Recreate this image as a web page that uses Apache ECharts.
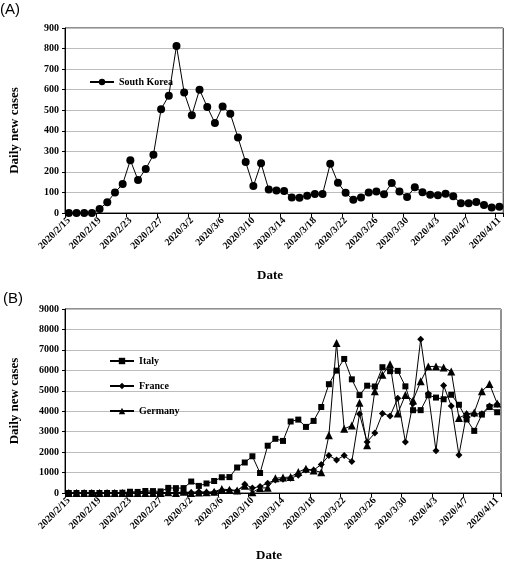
<!DOCTYPE html>
<html><head><meta charset="utf-8">
<script src="https://cdn.jsdelivr.net/npm/echarts@6/dist/echarts.min.js"></script>
<style>html,body{margin:0;padding:0;background:#fff}#c{width:505px;height:563px}</style>
</head><body><div id="c"></div>
<script>
const dates = ["2020/2/15","2020/2/16","2020/2/17","2020/2/18","2020/2/19","2020/2/20","2020/2/21","2020/2/22","2020/2/23","2020/2/24","2020/2/25","2020/2/26","2020/2/27","2020/2/28","2020/2/29","2020/3/1","2020/3/2","2020/3/3","2020/3/4","2020/3/5","2020/3/6","2020/3/7","2020/3/8","2020/3/9","2020/3/10","2020/3/11","2020/3/12","2020/3/13","2020/3/14","2020/3/15","2020/3/16","2020/3/17","2020/3/18","2020/3/19","2020/3/20","2020/3/21","2020/3/22","2020/3/23","2020/3/24","2020/3/25","2020/3/26","2020/3/27","2020/3/28","2020/3/29","2020/3/30","2020/3/31","2020/4/1","2020/4/2","2020/4/3","2020/4/4","2020/4/5","2020/4/6","2020/4/7","2020/4/8","2020/4/9","2020/4/10","2020/4/11"];
const southKorea = [0,0,0,0,20,52,100,141,257,160,214,283,505,571,813,586,476,600,516,438,518,483,367,248,131,242,114,110,107,76,74,84,93,92,239,147,98,64,76,100,104,91,146,105,78,125,101,89,86,94,81,47,47,53,39,27,30];
const italy = [0,0,0,0,0,0,0,14,62,53,97,93,78,250,238,240,561,347,466,587,769,778,1247,1492,1797,977,2313,2651,2547,3497,3590,3233,3526,4207,5322,5986,6557,5560,4789,5249,5210,6153,5959,5974,5217,4050,4053,4782,4668,4585,4805,4316,3599,3039,3836,4204,3951];
const france = [0,0,0,0,0,0,0,0,0,0,0,2,4,20,19,43,30,61,32,32,128,128,96,433,240,320,480,641,673,721,865,1120,1120,1394,1830,1620,1830,1540,3860,2500,2930,3890,3770,4630,2500,4380,7516,4860,2070,5260,4260,1860,3860,3860,3880,4260,4340];
const germany = [0,0,0,0,0,0,0,0,0,0,0,2,4,31,0,57,0,28,32,64,192,160,128,352,32,240,256,721,753,785,1026,1186,1106,1010,2820,7340,3140,3300,4420,2340,4980,5780,6300,3890,4790,4530,5460,6190,6190,6140,5940,3670,3860,3940,4980,5330,4380];
const yTicksA = {min:0, max:900, interval:100};
const yTicksB = {min:0, max:9000, interval:1000};

const SERIF = 'Liberation Serif';
const chart = echarts.init(document.getElementById('c'), null, {renderer:'canvas'});

function xAxis(gi){
  return {
    type:'category', gridIndex:gi, data:dates, boundaryGap:true,
    name:'Date', nameLocation:'middle', nameGap:56,
    nameTextStyle:{fontFamily:SERIF, fontWeight:'bold', fontSize:13, color:'#000', padding:[0,28,0,0]},
    axisLine:{show:true, lineStyle:{color:'#000', width:1}},
    axisTick:{show:true, interval:3, length:4, lineStyle:{color:'#000'}},
    axisLabel:{interval:3, rotate:45, margin:6, fontFamily:SERIF, fontWeight:'bold', fontSize:10, color:'#000'},
    splitLine:{show:false}
  };
}
function yAxis(gi, t, pad){
  return {
    type:'value', gridIndex:gi, min:t.min, max:t.max, interval:t.interval,
    name:'Daily new cases', nameLocation:'middle', nameGap:44, nameRotate:90,
    nameTextStyle:{fontFamily:SERIF, fontWeight:'bold', fontSize:13, color:'#000', padding:pad},
    axisLine:{show:true, lineStyle:{color:'#000', width:1}},
    axisTick:{show:true, length:3, lineStyle:{color:'#000'}},
    axisLabel:{margin:6, fontFamily:SERIF, fontWeight:'bold', fontSize:10, color:'#000', formatter:v => String(v)},
    splitLine:{show:true, lineStyle:{color:'#bdbdbd', width:1}}
  };
}
function line(name, data, xi, sym, size){
  return {
    name, type:'line', data, xAxisIndex:xi, yAxisIndex:xi,
    symbol:sym, symbolSize:size, showAllSymbol:true,
    lineStyle:{color:'#000', width:1}, itemStyle:{color:'#000', borderWidth:0},
    emphasis:{disabled:true}, animation:false, z:3
  };
}

chart.setOption({
  animation:false,
  backgroundColor:'#fff',
  grid:[
    {left:62, top:28, right:1, bottom:350, show:true, borderColor:'#222', borderWidth:1},
    {left:62, top:309, right:4, bottom:66, show:true, borderColor:'#222', borderWidth:1}
  ],
  xAxis:[xAxis(0), xAxis(1)],
  yAxis:[yAxis(0, yTicksA, [0,20,0,0]), yAxis(1, yTicksB, [0,0,0,0])],
  legend:[
    {data:['South Korea'], left:84, top:72, itemWidth:24, itemHeight:8,
     textStyle:{fontFamily:SERIF, fontWeight:'bold', fontSize:10, color:'#000'}, itemGap:10},
    {data:['Italy','France','Germany'], orient:'vertical', left:104, top:351, itemWidth:24, itemHeight:8, itemGap:15,
     textStyle:{fontFamily:SERIF, fontWeight:'bold', fontSize:10, color:'#000'}}
  ],
  graphic:[
    {type:'text', left:0, top:2, style:{text:'(A)', font:'15px "Liberation Sans"', fill:'#000'}},
    {type:'text', left:3, top:291, style:{text:'(B)', font:'15px "Liberation Sans"', fill:'#000'}}
  ],
  series:[
    line('South Korea', southKorea, 0, 'circle', 8),
    line('Italy', italy, 1, 'rect', 6),
    line('France', france, 1, 'diamond', 7),
    line('Germany', germany, 1, 'triangle', 8)
  ]
});
</script></body></html>
